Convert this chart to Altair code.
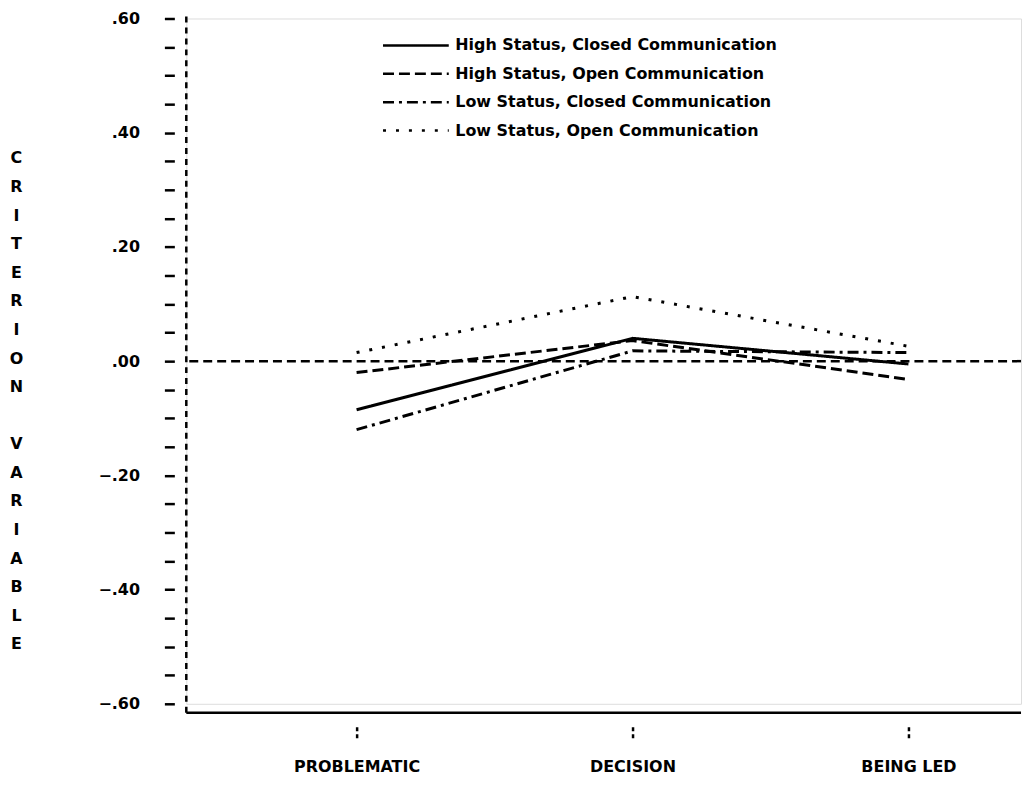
import altair as alt
import pandas as pd

# ---- data ----
categories = ["PROBLEMATIC", "DECISION", "BEING LED"]
series_names = [
    "High Status, Closed Communication",
    "High Status, Open Communication",
    "Low Status, Closed Communication",
    "Low Status, Open Communication",
]
high_closed = [-0.085, 0.040, -0.005]
high_open = [-0.020, 0.036, -0.032]
low_closed = [-0.120, 0.018, 0.015]
low_open = [0.015, 0.113, 0.026]
y_ticks = [-0.60, -0.55, -0.50, -0.45, -0.40, -0.35, -0.30, -0.25, -0.20, -0.15,
           -0.10, -0.05, 0.00, 0.05, 0.10, 0.15, 0.20, 0.25, 0.30, 0.35,
           0.40, 0.45, 0.50, 0.55, 0.60]
y_title = list("CRITERION") + ["\u2800"] + list("VARIABLE")

rows = []
for name, vals in zip(series_names, [high_closed, high_open, low_closed, low_open]):
    for cat, v in zip(categories, vals):
        rows.append({"series": name, "category": cat, "value": v})
df = pd.DataFrame(rows)

W, H = 838, 688
FONT = "DejaVu Sans"
dash_range = [[1, 0], [11, 5], [11, 5, 3, 5], [3, 10]]

lines = alt.Chart(df).mark_line(color="black", strokeWidth=3).encode(
    x=alt.X(
        "category:N",
        sort=categories,
        scale=alt.Scale(type="point", padding=0.5126, align=0.602),
        axis=alt.Axis(
            title=None, orient="bottom", offset=23, domain=False, grid=False,
            tickSize=14, tickDash=[4, 3], tickWidth=2.5, tickColor="black",
            labelPadding=18, labelAngle=0, labelFont=FONT, labelFontSize=16,
            labelFontWeight="bold", labelColor="black",
        ),
    ),
    y=alt.Y(
        "value:Q",
        scale=alt.Scale(domain=[-0.6, 0.6], nice=False, zero=False),
        axis=alt.Axis(
            values=y_ticks, tickCount=40,
            labelExpr="round(datum.value*100) % 20 == 0 ? replace(format(datum.value, '.2f'), '0.', '.') : ''",
            offset=12, domain=False, grid=False,
            tickSize=10, tickWidth=2.5, tickColor="black",
            labelPadding=25, labelFont=FONT, labelFontSize=16,
            labelFontWeight="bold", labelColor="black",
            title=y_title, titleAngle=0, titleAlign="center", titleBaseline="top",
            titleX=-159, titleY=132, titleLineHeight=28.7,
            titleFont=FONT, titleFontSize=16, titleFontWeight="bold", titleColor="black",
        ),
    ),
    strokeDash=alt.StrokeDash(
        "series:N",
        sort=series_names,
        scale=alt.Scale(domain=series_names, range=dash_range),
        legend=alt.Legend(
            title=None, orient="none", legendX=196, legendY=15,
            symbolType="stroke", symbolSize=4356, symbolStrokeWidth=2.5,
            symbolStrokeColor="black", clipHeight=24, rowPadding=4.5,
            labelOffset=5, labelFont=FONT, labelFontSize=16,
            labelFontWeight="bold", labelColor="black", labelLimit=800,
        ),
    ),
)

ref = pd.DataFrame({"zero": [0.0]})
zero_line = alt.Chart(ref).mark_rule(color="black", strokeWidth=2.5, strokeDash=[9, 5]).encode(
    y="zero:Q"
)
y_axis_line = alt.Chart(ref).mark_rule(color="black", strokeWidth=2.5, strokeDash=[6, 5]).encode(
    x=alt.value(0), y=alt.value(-2), y2=alt.value(H + 9)
)
baseline = alt.Chart(ref).mark_rule(color="black", strokeWidth=2.5).encode(
    x=alt.value(0), x2=alt.value(W), y=alt.value(H + 9)
)

chart = alt.layer(zero_line, y_axis_line, baseline, lines).properties(
    width=W,
    height=H,
    autosize=alt.AutoSizeParams(type="none"),
    padding={"left": 179, "top": 9, "right": 4, "bottom": 85},
).configure_view(stroke=None).configure(background="white")

chart.save("out.html", embed_options={"renderer": "svg", "actions": False})
